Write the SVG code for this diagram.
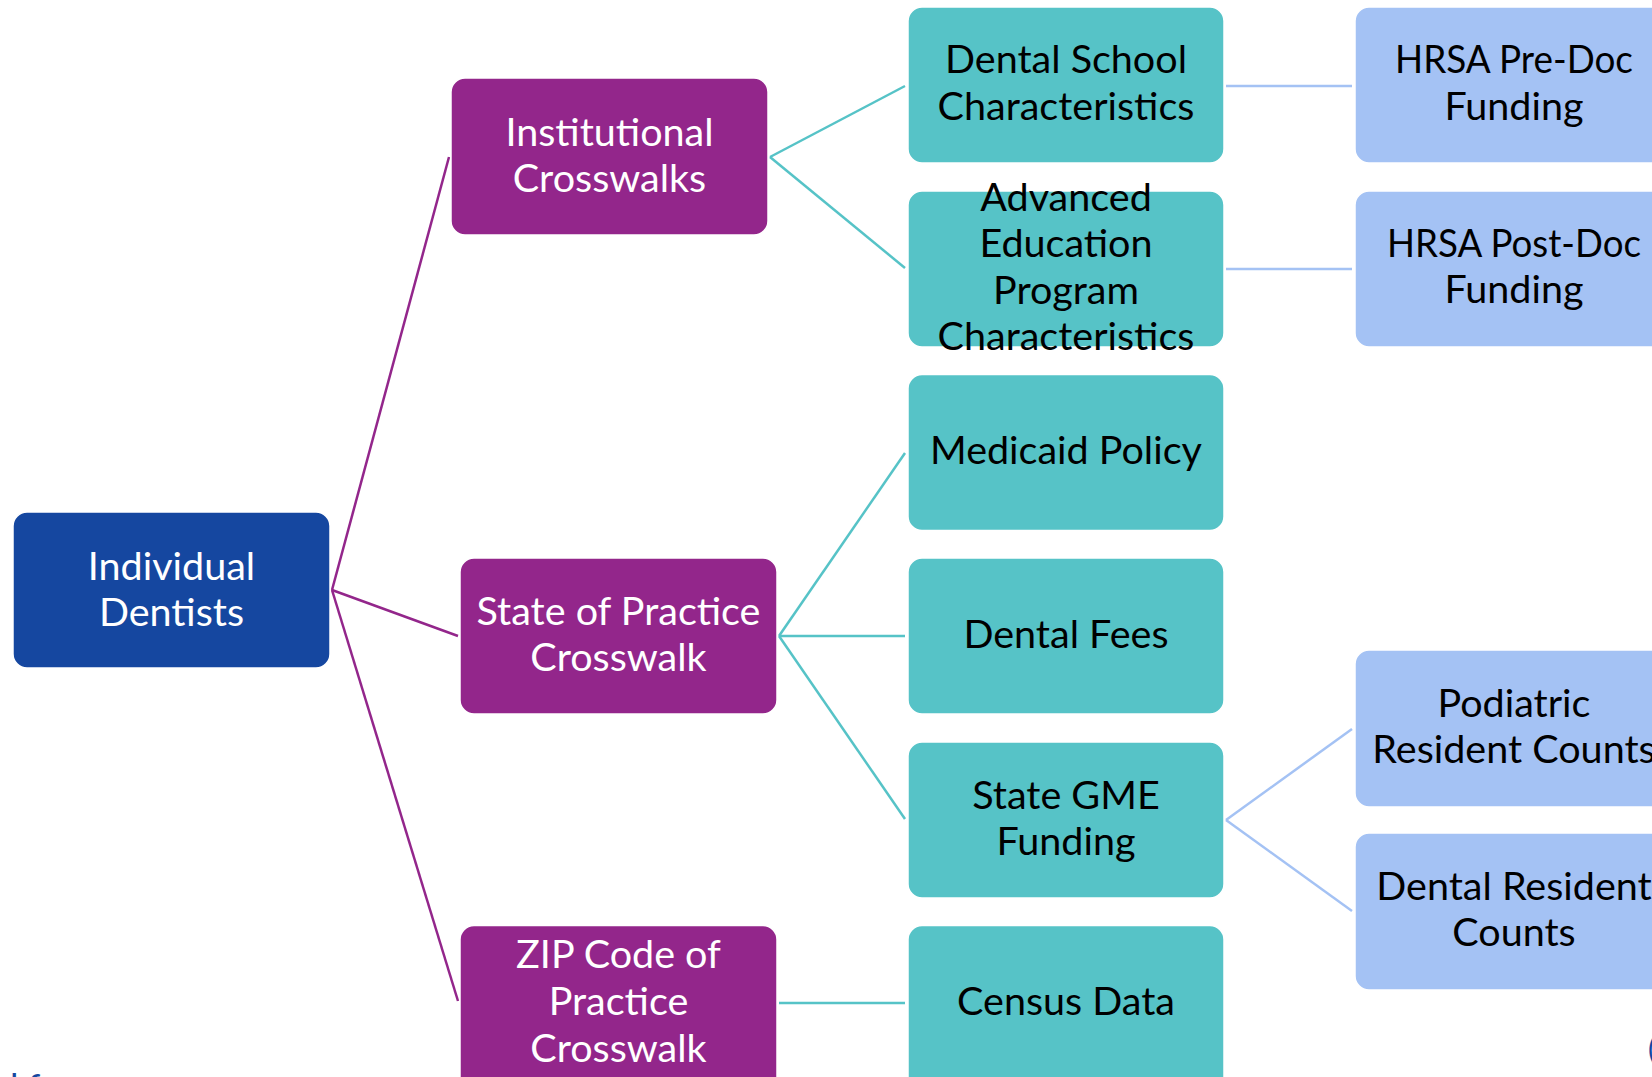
<svg xmlns="http://www.w3.org/2000/svg" width="1652" height="1077" viewBox="0 0 1652 1077">
<style>
  .box { stroke: #ffffff; stroke-width: 1.5; }
  .dk { fill: #1547A0; }
  .pu { fill: #93268B; }
  .te { fill: #56C3C7; }
  .lb { fill: #A4C2F4; }
  text { font-family: Lato, "Open Sans", "Liberation Sans", sans-serif; font-size: 39.5px; text-anchor: middle; }
  .w { fill: #ffffff; }
  .b { fill: #000000; }
  .cp { stroke: #93268B; stroke-width: 2.5; fill: none; }
  .ct { stroke: #56C3C7; stroke-width: 2.5; fill: none; }
  .cl { stroke: #A4C2F4; stroke-width: 2.5; fill: none; }
</style>
<rect width="1652" height="1077" fill="#ffffff"/>
<g id="connectors">
  <line class="cp" x1="332" y1="590" x2="449" y2="157"/>
  <line class="cp" x1="332" y1="590" x2="458" y2="636"/>
  <line class="cp" x1="332" y1="590" x2="458" y2="1001"/>
  <line class="ct" x1="770" y1="157" x2="905" y2="86"/>
  <line class="ct" x1="770" y1="157" x2="905" y2="268"/>
  <line class="ct" x1="779" y1="636" x2="905" y2="453"/>
  <line class="ct" x1="779" y1="636" x2="905" y2="636"/>
  <line class="ct" x1="779" y1="636" x2="905" y2="819"/>
  <line class="ct" x1="779" y1="1003" x2="905" y2="1003"/>
  <line class="cl" x1="1226" y1="86" x2="1352" y2="86"/>
  <line class="cl" x1="1226" y1="269" x2="1352" y2="269"/>
  <line class="cl" x1="1226" y1="820" x2="1352" y2="729"/>
  <line class="cl" x1="1226" y1="820" x2="1352" y2="911"/>
</g>
<g id="individual-dentists">
  <rect class="box dk" x="13" y="512" width="317" height="156" rx="14"/>
  <text class="w" x="171.5" y="580">Individual</text>
  <text class="w" x="171.5" y="626">Dentists</text>
</g>
<g id="institutional-crosswalks">
  <rect class="box pu" x="451" y="78" width="317" height="157" rx="14"/>
  <text class="w" x="609.5" y="146">Institutional</text>
  <text class="w" x="609.5" y="192">Crosswalks</text>
</g>
<g id="state-of-practice">
  <rect class="box pu" x="460" y="558" width="317" height="156" rx="14"/>
  <text class="w" x="618.5" y="625">State of Practice</text>
  <text class="w" x="618.5" y="671">Crosswalk</text>
</g>
<g id="zip-code">
  <rect class="box pu" x="460" y="925.5" width="317" height="170" rx="14"/>
  <text class="w" x="618.5" y="968">ZIP Code of</text>
  <text class="w" x="618.5" y="1015">Practice</text>
  <text class="w" x="618.5" y="1062">Crosswalk</text>
</g>
<g id="dental-school">
  <rect class="box te" x="908" y="7" width="316" height="156" rx="14"/>
  <text class="b" x="1066" y="73">Dental School</text>
  <text class="b" x="1066" y="120">Characteristics</text>
</g>
<g id="advanced-education">
  <rect class="box te" x="908" y="191" width="316" height="156" rx="14"/>
  <text class="b" x="1066" y="211">Advanced</text>
  <text class="b" x="1066" y="257">Education</text>
  <text class="b" x="1066" y="304">Program</text>
  <text class="b" x="1066" y="350">Characteristics</text>
</g>
<g id="medicaid-policy">
  <rect class="box te" x="908" y="374.5" width="316" height="156" rx="14"/>
  <text class="b" x="1066" y="464">Medicaid Policy</text>
</g>
<g id="dental-fees">
  <rect class="box te" x="908" y="558" width="316" height="156" rx="14"/>
  <text class="b" x="1066" y="647.5">Dental Fees</text>
</g>
<g id="state-gme">
  <rect class="box te" x="908" y="742" width="316" height="156" rx="14"/>
  <text class="b" x="1066" y="809">State GME</text>
  <text class="b" x="1066" y="855">Funding</text>
</g>
<g id="census-data">
  <rect class="box te" x="908" y="925.5" width="316" height="170" rx="14"/>
  <text class="b" x="1066" y="1015">Census Data</text>
</g>
<g id="hrsa-pre-doc">
  <rect class="box lb" x="1355" y="7" width="317" height="156" rx="14"/>
  <text class="b" x="1514" y="73" textLength="238" lengthAdjust="spacingAndGlyphs">HRSA Pre-Doc</text>
  <text class="b" x="1514" y="120">Funding</text>
</g>
<g id="hrsa-post-doc">
  <rect class="box lb" x="1355" y="191" width="317" height="156" rx="14"/>
  <text class="b" x="1514" y="257" textLength="254" lengthAdjust="spacingAndGlyphs">HRSA Post-Doc</text>
  <text class="b" x="1514" y="303">Funding</text>
</g>
<g id="podiatric-resident">
  <rect class="box lb" x="1355" y="650" width="317" height="157" rx="14"/>
  <text class="b" x="1514" y="717">Podiatric</text>
  <text class="b" x="1514" y="763">Resident Counts</text>
</g>
<g id="dental-resident">
  <rect class="box lb" x="1355" y="833" width="317" height="157" rx="14"/>
  <text class="b" x="1514" y="900">Dental Resident</text>
  <text class="b" x="1514" y="946">Counts</text>
</g>
<text x="10" y="1100" style="text-anchor:start; fill:#1547A0; font-size:36px;">l f</text>
<text x="1648" y="1060" style="text-anchor:start; fill:#1547A0; font-size:30px;">(</text>
</svg>
